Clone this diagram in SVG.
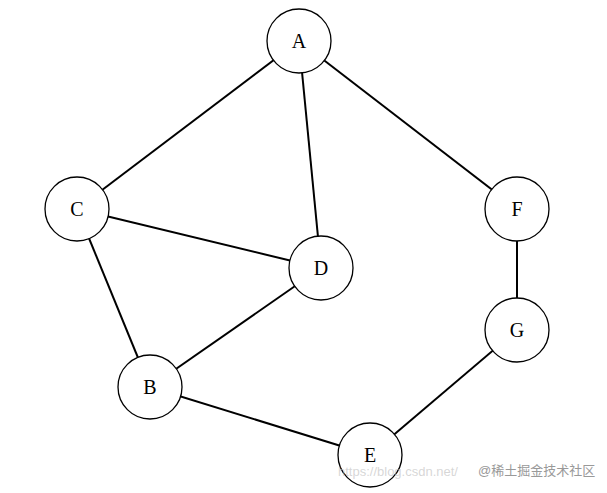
<svg xmlns="http://www.w3.org/2000/svg" width="607" height="493" viewBox="0 0 607 493">
<style>
.e{stroke:#000;stroke-width:2;fill:none}
.n circle{fill:#fff;stroke:#000;stroke-width:1.3}
.n text{font-family:"Liberation Serif","Noto Sans CJK SC",serif;font-size:20px;text-anchor:middle;dominant-baseline:central}
.w{font-family:"Liberation Sans","Noto Sans CJK SC",sans-serif;font-size:13px;fill:#bbb}
</style>
<rect width="607" height="493" fill="#fff"/>
<g id="edges">
<line class="e" x1="299" y1="41" x2="77" y2="209"/>
<line class="e" x1="299" y1="41" x2="321" y2="268"/>
<line class="e" x1="299" y1="41" x2="517" y2="209"/>
<line class="e" x1="77" y1="209" x2="321" y2="268"/>
<line class="e" x1="77" y1="209" x2="150" y2="387"/>
<line class="e" x1="321" y1="268" x2="150" y2="387"/>
<line class="e" x1="150" y1="387" x2="370" y2="455"/>
<line class="e" x1="370" y1="455" x2="517" y2="330"/>
<line class="e" x1="517" y1="209" x2="517" y2="330"/>
</g>
<g id="A" class="n"><circle cx="299" cy="41" r="32"/><text x="299" y="41">A</text></g>
<g id="C" class="n"><circle cx="77" cy="209" r="32"/><text x="77" y="209">C</text></g>
<g id="D" class="n"><circle cx="321" cy="268" r="32"/><text x="321" y="268">D</text></g>
<g id="F" class="n"><circle cx="517" cy="209" r="32"/><text x="517" y="209">F</text></g>
<g id="G" class="n"><circle cx="517" cy="330" r="32"/><text x="517" y="330">G</text></g>
<g id="B" class="n"><circle cx="150" cy="387" r="32"/><text x="150" y="387">B</text></g>
<g id="E" class="n"><circle cx="370" cy="455" r="32"/><text x="370" y="455">E</text></g>
<text class="w" x="338" y="476" fill-opacity="0.6">https://blog.csdn.net/</text>
<text class="w" x="478" y="475" style="fill:#999">@稀土掘金技术社区</text>
</svg>
